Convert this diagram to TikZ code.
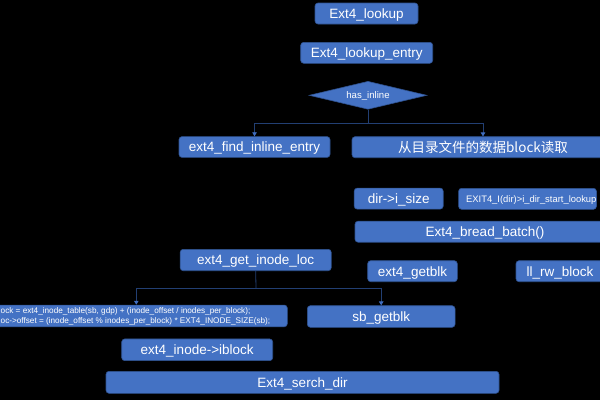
\documentclass[tikz,border=0pt]{standalone}
\usepackage{fontspec}
\setmainfont{Liberation Sans}
\newfontfamily\cjkfont{Noto Sans CJK SC}
\usetikzlibrary{shapes.geometric,arrows.meta}
\definecolor{boxfill}{HTML}{4472C4}
\definecolor{boxline}{HTML}{2F528F}
\definecolor{lineblue}{HTML}{223F73}
\definecolor{tipblue}{HTML}{3F6DBF}
\tikzset{
  fbox/.style={draw=boxline, fill=boxfill, rounded corners=3pt, text=white,
    inner sep=0pt, text depth=0pt, line width=0.6pt, font=\fontsize{13.5}{16}\selectfont},
  decide/.style={draw=boxline, fill=boxfill, shape=diamond, aspect=4.2, text=white,
    inner sep=0pt, text depth=0pt, line width=0.6pt, font=\fontsize{9.6}{11}\selectfont},
  wire/.style={draw=lineblue, line width=0.8pt},
  conn/.style={wire, -{Triangle[width=4.5pt,length=4pt,color=tipblue]}}
}
\begin{document}
\begin{tikzpicture}[x=1pt,y=-1pt]
\useasboundingbox (0,0) rectangle (600,400);
\clip (0,0) rectangle (600,400);
\fill[black] (0,0) rectangle (600,400);

\node[fbox, minimum width=103pt, minimum height=21pt] (lookup) at (366.5,13.5) {Ext4\_lookup};
\node[fbox, minimum width=132pt, minimum height=21pt] (entry) at (366.7,52.8) {Ext4\_lookup\_entry};
\node[decide, minimum width=117.7pt, minimum height=28pt] (inl) at (368,95.3) {has\_inline};
\node[fbox, minimum width=151pt, minimum height=20.8pt] (find) at (254.5,147) {ext4\_find\_inline\_entry};
\node[fbox, minimum width=262pt, minimum height=21pt, font=\cjkfont\fontsize{13.5}{16}\selectfont] (read) at (483,147.2) {从目录文件的数据block读取};
\node[fbox, minimum width=89pt, minimum height=21pt] (isize) at (398.7,198.6) {dir->i\_size};
\node[fbox, minimum height=21pt, anchor=west, inner xsep=0pt, font=\fontsize{9.4}{11}\selectfont] (exitb) at (458.3,198.8) {\hspace{7.5pt}EXIT4\_I(dir)>i\_dir\_start\_lookup\hspace{20pt}};
\node[fbox, minimum width=260pt, minimum height=21pt] (bread) at (485,231.7) {Ext4\_bread\_batch()};
\node[fbox, minimum width=151pt, minimum height=21.4pt] (getloc) at (255.7,260) {ext4\_get\_inode\_loc};
\node[fbox, minimum width=89.6pt, minimum height=21pt] (getblk) at (412.5,271.2) {ext4\_getblk};
\node[fbox, minimum width=88pt, minimum height=21pt] (llrw) at (560,271.2) {ll\_rw\_block};
\node[fbox, minimum width=302pt, minimum height=21.7pt] (code) at (136.3,315.9) {};
\node[anchor=west, text=white, inner sep=0pt, align=left, font=\fontsize{8.2}{10.5}\selectfont] (codetext) at (0.5,316.6)
  {ock = ext4\_inode\_table(sb, gdp) + (inode\_offset / inodes\_per\_block);\\
   oc->offset = (inode\_offset \% inodes\_per\_block) * EXT4\_INODE\_SIZE(sb);};
\node[fbox, minimum width=147.7pt, minimum height=21.6pt] (sbget) at (381.2,316.5) {sb\_getblk};
\node[fbox, minimum width=151pt, minimum height=21.7pt] (iblock) at (197.2,349.8) {ext4\_inode->iblock};
\node[fbox, minimum width=393pt, minimum height=22pt] (serch) at (302.5,382.3) {Ext4\_serch\_dir};

\coordinate (j1) at (368,123);
\coordinate (j2) at (256,288.3);
\draw[wire] (inl.south) -- (j1);
\draw[conn] (j1) -| (find.north);
\draw[conn] (j1) -| (read.north);
\draw[wire] (getloc.south) -- (j2);
\draw[conn] (j2) -| (code.north);
\draw[conn] (j2) -| (sbget.north);
\end{tikzpicture}
\end{document}
